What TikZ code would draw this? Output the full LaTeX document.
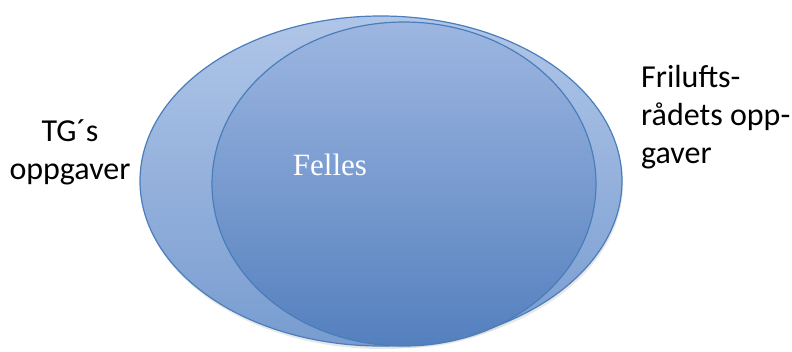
\documentclass[tikz,border=0pt]{standalone}
\usepackage{fontspec}
\setmainfont{Carlito}
\newfontfamily\serifft{Liberation Serif}
\begin{document}
\begin{tikzpicture}[x=1pt,y=-1pt,
  edge/.style={draw=ringblue,line width=1.2pt},
  lbl/.style={font=\fontsize{32}{38}\selectfont,align=left,inner sep=0pt}]
\definecolor{ringblue}{HTML}{4A7EBB}
\useasboundingbox (0,0) rectangle (792,351);
% shadows
\fill[black!18,opacity=0.5] (382,184) ellipse [x radius=241,y radius=165];
\fill[black!18,opacity=0.5] (405,186) ellipse [x radius=192,y radius=162];
% outer ellipse
\path[edge,top color={rgb,255:red,176;green,198;blue,232},bottom color={rgb,255:red,120;green,156;blue,208}]
  (381,181) ellipse [x radius=241,y radius=165];
% inner ellipse
\path[edge,top color={rgb,255:red,157;green,182;blue,225},bottom color={rgb,255:red,84;green,128;blue,190}]
  (404,184) ellipse [x radius=192,y radius=162];
\node[lbl,align=center,anchor=center] (tg) at (70,152) {TG´s\\oppgaver};
\node[lbl,anchor=north west] (fr) at (641,65) {Frilufts-\\rådets opp-\\gaver};
\node[font=\serifft\fontsize{31}{36}\selectfont,text=white,anchor=base,inner sep=0pt] (felles) at (330,175) {Felles};
\end{tikzpicture}
\end{document}
